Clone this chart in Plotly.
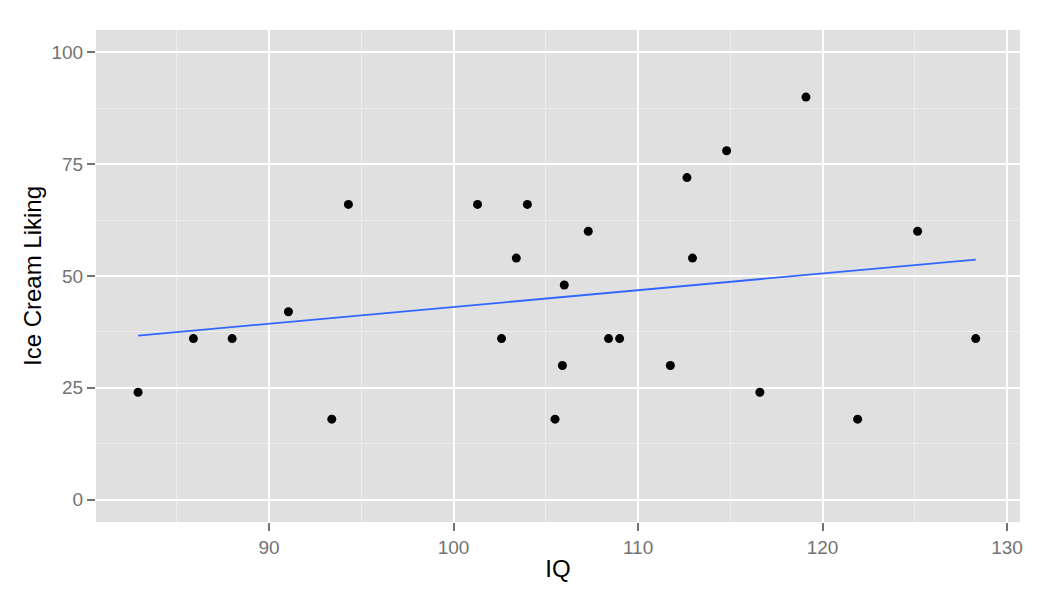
import numpy as np
import plotly.graph_objects as go

# IQ vs ice cream liking
iq = [82.9, 85.9, 88.0, 91.05, 93.4, 94.3, 101.3, 102.6, 103.4, 104.0, 105.5, 105.9, 106.0,
      107.3, 108.4, 109.0, 111.75, 112.65, 112.95, 114.8, 116.6, 119.1, 121.9, 125.15, 128.3]
liking = [24, 36, 36, 42, 18, 66, 66, 36, 54, 66, 18, 30, 48,
          60, 36, 36, 30, 72, 54, 78, 24, 90, 18, 60, 36]

x_ticks = [90, 100, 110, 120, 130]
y_ticks = [0, 25, 50, 75, 100]

# linear fit like geom_smooth(method="lm", se=FALSE)
slope, icpt = np.polyfit(iq, liking, 1)
fit_x = [min(iq), max(iq)]
fit_y = [slope * v + icpt for v in fit_x]

fig = go.Figure()
fig.add_scatter(x=fit_x, y=fit_y, mode="lines", line=dict(color="#3366FF", width=1.8),
                hoverinfo="skip")
fig.add_scatter(x=iq, y=liking, mode="markers", marker=dict(color="black", size=9))

axis_font = dict(family="Liberation Sans, Arial, sans-serif", size=19, color="#737373")
title_font = dict(family="Liberation Sans, Arial, sans-serif", size=24, color="black")

# page body has an 8px offset, so margins are shifted to land the panel where the reference has it
fig.update_layout(
    width=1050, height=600,
    margin=dict(l=88, r=38, t=22, b=86),
    paper_bgcolor="white", plot_bgcolor="#E0E0E0",
    showlegend=False,
    xaxis=dict(
        range=[80.62, 130.7], tickvals=x_ticks, ticks="outside", ticklen=8, tickwidth=1.5,
        tickcolor="#737373", tickfont=axis_font, showline=False, zeroline=False,
        gridcolor="white", gridwidth=1.8,
        minor=dict(dtick=5, tick0=85, showgrid=True, gridcolor="#EDEDED", gridwidth=0.8),
        title=dict(text="IQ", font=title_font, standoff=3),
    ),
    yaxis=dict(
        range=[-5, 105], tickvals=y_ticks, ticks="outside", ticklen=8, tickwidth=1.5,
        tickcolor="#737373", tickfont=axis_font, showline=False, zeroline=False,
        gridcolor="white", gridwidth=1.8,
        minor=dict(dtick=12.5, tick0=12.5, showgrid=True, gridcolor="#EDEDED", gridwidth=0.8),
        title=dict(text="Ice Cream Liking", font=title_font, standoff=3),
    ),
)

fig.write_html("out.html")
